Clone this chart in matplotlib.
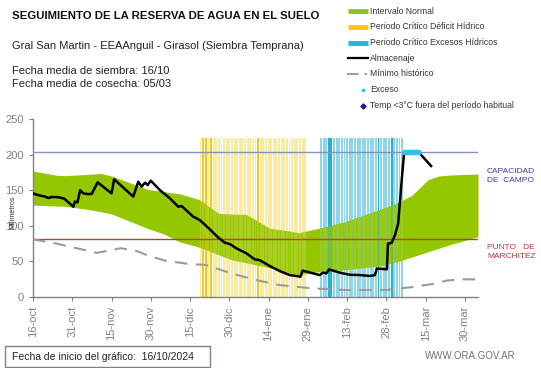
import matplotlib
matplotlib.use("Agg")
import matplotlib.pyplot as plt
from matplotlib.patches import Rectangle
import numpy as np

plt.rcParams['font.family'] = ['Liberation Sans', 'DejaVu Sans']

# ---------------- data (days since 16/10/2024) ----------------
tick_days = [0, 15, 30, 45, 60, 75, 90, 105, 120, 135, 150, 165]
tick_labels = ["16-oct", "31-oct", "15-nov", "30-nov", "15-dic", "30-dic",
               "14-ene", "29-ene", "13-feb", "28-feb", "15-mar", "30-mar"]

upper_days = [0, 9, 12.5, 20, 26, 30, 44, 50, 56, 63.4, 71, 76, 81.5, 90.5,
              97.7, 101.5, 109, 119, 132, 139.7, 144.8, 151, 155, 160, 170]
upper_vals = [177, 171, 170.5, 172, 173.5, 170, 151, 148, 145, 137, 117.5,
              116.5, 116, 96.5, 93, 90.3, 96.4, 105.8, 122.5, 133, 143, 165,
              170, 171.5, 172.8]

lower_days = [0, 14.4, 25, 35, 44, 50, 55.7, 63.4, 76, 88.8, 97.7, 101.5,
              110, 119, 132, 139.7, 151, 161, 170]
lower_vals = [129, 127, 120.5, 112.8, 96, 88.5, 77.7, 70, 52, 42.6, 34, 31,
              36, 38, 43.5, 50, 63.7, 75.3, 84.7]

min_days = [0, 9, 24.4, 33.5, 39.7, 44.3, 50.6, 59.5, 66, 76, 85, 94, 106.6,
            119, 135, 145, 152.7, 158, 163, 170]
min_vals = [81, 75, 62, 68.5, 64.5, 57.6, 51, 46.4, 45, 33, 24, 16.8, 12.2,
            9.8, 9.8, 14, 18.3, 23, 24.8, 24.8]

alm_days = [0, 2, 4.6, 5.9, 7, 9.7, 12, 15.4, 16, 17, 18, 19.2, 21, 22.4,
            24.7, 30, 31, 38.3, 40.2, 41.5, 42.8, 43.8, 45, 48.5, 52.3, 55.5,
            56.8, 61.2, 63.7, 67.6, 70.7, 73.3, 75.2, 77.7, 81.6, 84.7, 86.6,
            90.5, 94.3, 98.1, 100.6, 102.2, 103, 107, 109.5, 110.8, 112.1,
            113.1, 117.4, 121.1, 125, 128.8, 130.6, 131.4, 135.2, 135.6, 137,
            138.2, 139.5, 140.1, 141.1, 141.8, 147.4, 152.1]
alm_vals = [145.6, 143, 141, 139, 140.5, 140.2, 138, 126.8, 134, 133, 150,
            145.6, 144.5, 144.7, 161, 145.6, 165.3, 141, 161.9, 155, 160.6,
            157.3, 163.4, 150, 138.6, 126.8, 127.7, 112.8, 108.1, 94.9, 83.7,
            76.2, 74.4, 68.3, 61.2, 52.8, 51.8, 43.4, 36.4, 30.8, 29.5, 28.5,
            37, 33.2, 30.8, 34.2, 33.2, 38.7, 34, 31.2, 30.8, 29.5, 30.8, 40,
            38.9, 75, 76, 86, 103, 130, 175, 203, 203, 184]

exceso_days = [142, 143, 144, 145, 146, 147]
exceso_vals = [203, 203, 203, 203, 203, 203]

deficit_days = list(range(64, 105))
deficit_dark = [65, 66, 68, 86]
excess_days = list(range(110, 142))
excess_dark = [113, 114, 132, 137]
period_height = 224

capacidad_campo = 203
punto_marchitez = 81

# ---------------- figure ----------------
W, H = 541, 368
fig = plt.figure(figsize=(W / 100, H / 100), dpi=100)
ax = fig.add_axes([33 / W, 1 - 297 / H, (478 - 33) / W, (297 - 119) / H])

green = '#95C700'
lower_on_upper = np.interp(upper_days, lower_days, lower_vals)
ax.fill_between(upper_days, lower_on_upper, upper_vals, color=green,
                linewidth=0, zorder=1)

def draw_period(days, dark, light_c, dark_c):
    for d in days:
        c = dark_c if d in dark else light_c
        # opaque stripe behind the band
        ax.bar(d, period_height, width=0.72, color=c, linewidth=0, zorder=0.5)
        # faint stripe over the band
        ax.bar(d, period_height, width=0.72, color=c, linewidth=0,
               alpha=0.35 if d in dark else 0.22, zorder=2)

draw_period(deficit_days, deficit_dark, '#F8EAA0', '#F0CC20')
draw_period(excess_days, excess_dark, '#8ED6EA', '#22B2D6')

ax.axhline(capacidad_campo, color='#7F95C0', lw=1.0, zorder=3)
ax.axhline(punto_marchitez, color='#B8403A', lw=1.0, zorder=3)

ax.plot(min_days, min_vals, color='#9A9A9A', lw=1.5, dashes=(6, 4), zorder=4)
ax.plot(alm_days, alm_vals, color='black', lw=1.8, zorder=5)
ax.plot(exceso_days, exceso_vals, color='#2EC4E8', lw=2.2, marker='s', ms=2.2,
        zorder=6)

ax.set_xlim(0, 170)
ax.set_ylim(0, 250)
ax.set_yticks([0, 50, 100, 150, 200, 250])
ax.set_xticks(tick_days)
ax.set_xticklabels(tick_labels, rotation=90, fontsize=8, color='#333333')
ax.tick_params(axis='y', labelsize=8, labelcolor='#333333')
ax.tick_params(colors='#808080', length=3, width=0.8)
for s in ['top', 'right']:
    ax.spines[s].set_visible(False)
for s in ['left', 'bottom']:
    ax.spines[s].set_color('#808080')
    ax.spines[s].set_linewidth(1.0)
ax.set_facecolor('none')

# ---------------- overlay (pixel coords) ----------------
ov = fig.add_axes([0, 0, 1, 1], zorder=10)
ov.set_xlim(0, W)
ov.set_ylim(H, 0)
ov.axis('off')
ov.patch.set_alpha(0)

ov.text(12, 16, "SEGUIMIENTO DE LA RESERVA DE AGUA EN EL SUELO", fontsize=8.2,
        fontweight='bold', va='center', ha='left', color='#111111')
ov.text(12, 46, "Gral San Martin - EEAAnguil - Girasol (Siembra Temprana)",
        fontsize=8.0, va='center', ha='left', color='#222222')
ov.text(12, 71, "Fecha media de siembra: 16/10", fontsize=8.0, va='center',
        ha='left', color='#222222')
ov.text(12, 84, "Fecha media de cosecha: 05/03", fontsize=8.0, va='center',
        ha='left', color='#222222')

ov.text(13, 212, "Milímetros", rotation=90, fontsize=5.2, va='center',
        ha='center', color='#333333')

ov.text(487, 176, "CAPACIDAD\nDE  CAMPO", fontsize=6, color='#3A3AB0',
        va='center', ha='left', linespacing=1.3)
ov.text(487, 252, "PUNTO   DE\nMARCHITEZ", fontsize=6, color='#C03030',
        va='center', ha='left', linespacing=1.3)

# legend
lx0, lx1, tx = 348, 368, 370
rows = [11, 26.7, 42.7, 58.3, 74, 90, 106]
labels = ["Intervalo Normal", "Periodo Crítico Déficit Hídrico",
          "Periodo Crítico Excesos Hídricos", "Almacenaje", "Mínimo histórico",
          "Exceso", "Temp <3°C fuera del período habitual"]
ov.plot([lx0, lx1], [rows[0]] * 2, color='#8DC21F', lw=3.5, solid_capstyle='butt')
ov.plot([lx0, lx1], [rows[1]] * 2, color='#FFC20E', lw=3.5, solid_capstyle='butt')
ov.plot([lx0, lx1], [rows[2]] * 2, color='#1EB4E8', lw=3.5, solid_capstyle='butt')
ov.plot([lx0, lx1], [rows[3]] * 2, color='black', lw=1.6)
ov.plot([lx0 - 1, lx1 - 1], [rows[4]] * 2, color='#9A9A9A', lw=1.4, dashes=(6, 3))
ov.plot([363], [rows[5]], marker='s', ms=2, color='#2EC4E8', lw=0)
ov.plot([363], [rows[6]], marker='D', ms=2.6, color='#1A1AA0', lw=0)
for y, t in zip(rows, labels):
    ov.text(tx, y, t, fontsize=6.2, va='center', ha='left', color='#333333')

# footer
ov.add_patch(Rectangle((5, 346), 205, 21, fill=False, edgecolor='#8A7A7A', lw=1.0))
ov.text(12, 356.5, "Fecha de inicio del gráfico:  16/10/2024", fontsize=7.5,
        va='center', ha='left', color='#222222')
ov.text(516, 356, "WWW.ORA.GOV.AR", fontsize=7, va='center', ha='right',
        color='#707070')

fig.savefig("out.png", dpi=100)
